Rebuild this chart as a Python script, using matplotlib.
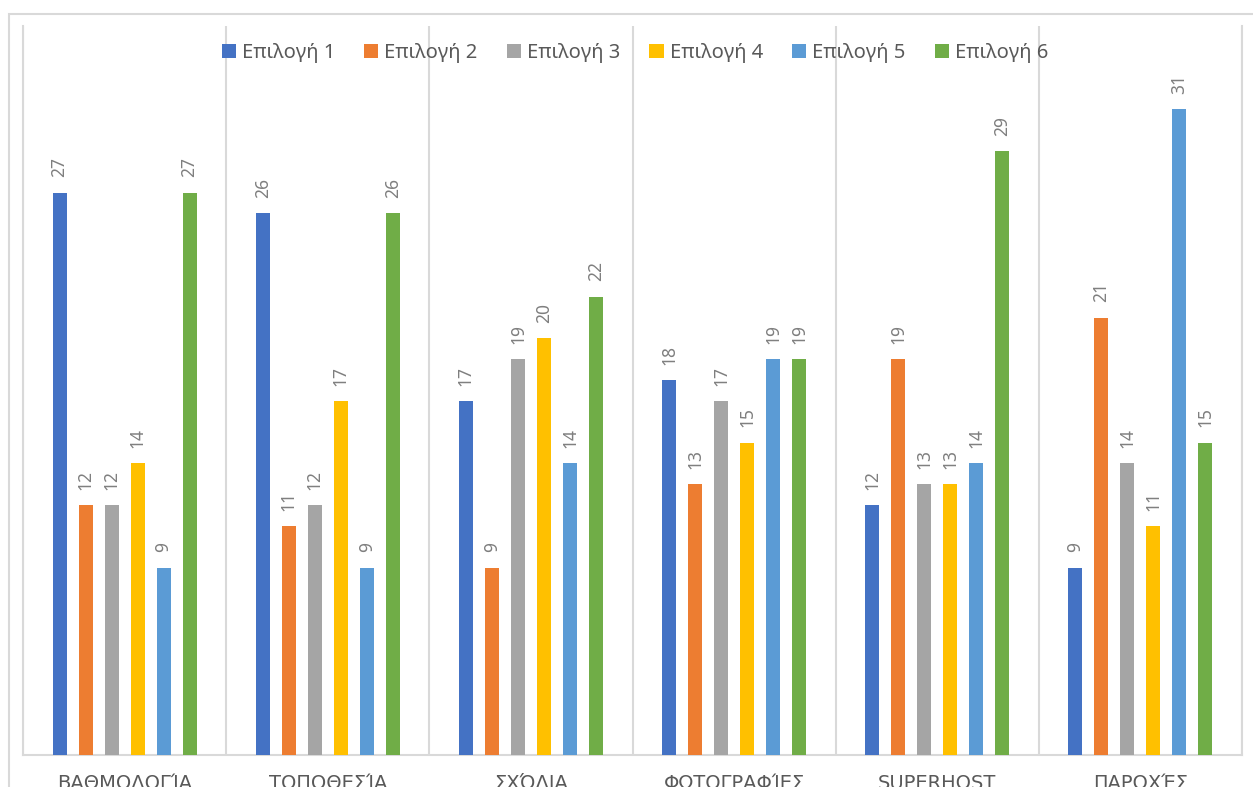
import matplotlib
matplotlib.use("Agg")
import matplotlib.pyplot as plt
import numpy as np
from matplotlib.patches import Rectangle

plt.rcParams['font.family'] = ['Noto Sans', 'DejaVu Sans']

categories = ["ΒΑΘΜΟΛΟΓΊΑ", "ΤΟΠΟΘΕΣΊΑ", "ΣΧΌΛΙΑ", "ΦΩΤΟΓΡΑΦΊΕΣ", "SUPERHOST", "ΠΑΡΟΧΈΣ"]
series_names = ["Επιλογή 1", "Επιλογή 2", "Επιλογή 3", "Επιλογή 4", "Επιλογή 5", "Επιλογή 6"]
opt1 = [27, 26, 17, 18, 12, 9]
opt2 = [12, 11, 9, 13, 19, 21]
opt3 = [12, 12, 19, 17, 13, 14]
opt4 = [14, 17, 20, 15, 13, 11]
opt5 = [9, 9, 14, 19, 14, 31]
opt6 = [27, 26, 22, 19, 29, 15]
series = [opt1, opt2, opt3, opt4, opt5, opt6]
colors = ["#4472C4", "#ED7D31", "#A5A5A5", "#FFC000", "#5B9BD5", "#70AD47"]

W, H = 1253, 787
fig = plt.figure(figsize=(W / 100, H / 100), dpi=100)
ax = fig.add_axes([23 / W, (H - 755) / H, (1242 - 23) / W, (755 - 26) / H])

# outer chart border (cropped)
fig.patches.append(Rectangle((8.5 / W, -0.1), 2.0, (H - 13.5) / H + 0.1,
                             transform=fig.transFigure, fill=False,
                             edgecolor="#D9D9D9", linewidth=1.5, zorder=0))

x = np.arange(len(categories))
bw = 0.069
pitch = 0.128
n = len(series)
for i, (vals, col, name) in enumerate(zip(series, colors, series_names)):
    pos = x + (i - (n - 1) / 2) * pitch
    bars = ax.bar(pos, vals, width=bw, color=col, label=name, zorder=3)
    for b, v in zip(bars, vals):
        ax.annotate(str(v), (b.get_x() + b.get_width() / 2, v),
                    xytext=(0, 11), textcoords="offset points",
                    rotation=90, ha="center", va="bottom",
                    fontsize=12.5, color="#7F7F7F")

ax.set_xlim(-0.5, len(categories) - 0.5)
ax.set_ylim(0, 35)
ax.set_yticks([])
ax.set_xticks(x)
ax.set_xticklabels(categories, fontsize=14, color="#595959",
                   family=['DejaVu Sans'])
ax.tick_params(axis="x", length=0, pad=14)
ax.set_xticks(np.arange(len(categories) + 1) - 0.5, minor=True)
ax.tick_params(axis="x", which="minor", length=0)
ax.grid(axis="x", which="minor", color="#D9D9D9", linewidth=1.5, zorder=0)
ax.spines["top"].set_visible(False)
for s in ["left", "right", "bottom"]:
    ax.spines[s].set_color("#D9D9D9")
    ax.spines[s].set_linewidth(1.5)

leg = ax.legend(loc="upper center", bbox_to_anchor=(0.502, 1.0), ncol=6,
                frameon=False, fontsize=14.5, handlelength=0.7, handleheight=0.7,
                handletextpad=0.3, columnspacing=1.45, borderaxespad=0.45)
for t in leg.get_texts():
    t.set_color("#595959")

fig.savefig("out.png", dpi=100)
